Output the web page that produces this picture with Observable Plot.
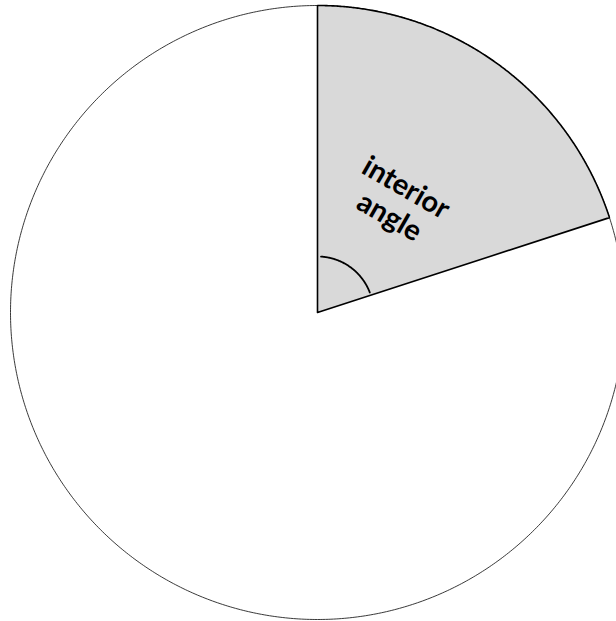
<!DOCTYPE html>
<html><head><meta charset="utf-8">
<script src="https://cdn.jsdelivr.net/npm/d3@7"></script>
<script src="https://cdn.jsdelivr.net/npm/@observablehq/plot@0.6"></script>
<style>html,body{margin:0;padding:0;background:#fff;} svg{display:block}</style>
</head><body><div id="chart"></div>
<script>
// Data
const sliceNames = ["interior angle", "rest of circle"];
const sliceDegrees = [72, 288];
const labelLines = ["interior", "angle"];

const W = 616, H = 621, cx = 317, cy = 312, R = 307;
function polar(deg, r) { const a = deg * Math.PI / 180; return {x: r * Math.sin(a), y: r * Math.cos(a)}; }

const wedge = sliceDegrees[0];
const circlePts = d3.range(0, 360.01, 0.5).map(d => polar(d, 1));
const wedgePts = [polar(0, 0), ...d3.range(0, wedge + 0.001, 0.25).map(d => polar(d, 1)), polar(0, 0)];
const markerR = 56 / R;
const markerPts = d3.range(wedge * 0.05, wedge * 0.96 + 0.001, 0.5).map(d => polar(d, markerR));
const labelPos = polar(wedge / 2, 0.448);
const labels = [{...labelPos, text: labelLines.join("\n")}];

const chart = Plot.plot({
  width: W, height: H, margin: 0,
  style: {background: "#fff"},
  x: {domain: [-cx / R, (W - cx) / R], range: [0, W], axis: null},
  y: {domain: [-(H - cy) / R, cy / R], range: [H, 0], axis: null},
  marks: [
    Plot.line(circlePts, {x: "x", y: "y", stroke: "#222", strokeWidth: 0.9}),
    Plot.line(wedgePts, {x: "x", y: "y", fill: "#d9d9d9", stroke: "#000", strokeWidth: 1.6, strokeLinejoin: "miter"}),
    Plot.line(markerPts, {x: "x", y: "y", stroke: "#000", strokeWidth: 1.8}),
    Plot.text(labels, {x: "x", y: "y", text: "text", rotate: 30, fontSize: 29, fontWeight: "bold", fontFamily: "Lato", lineHeight: 1.15, fill: "#000"})
  ]
});
document.getElementById("chart").appendChild(chart);
</script>
</body></html>
